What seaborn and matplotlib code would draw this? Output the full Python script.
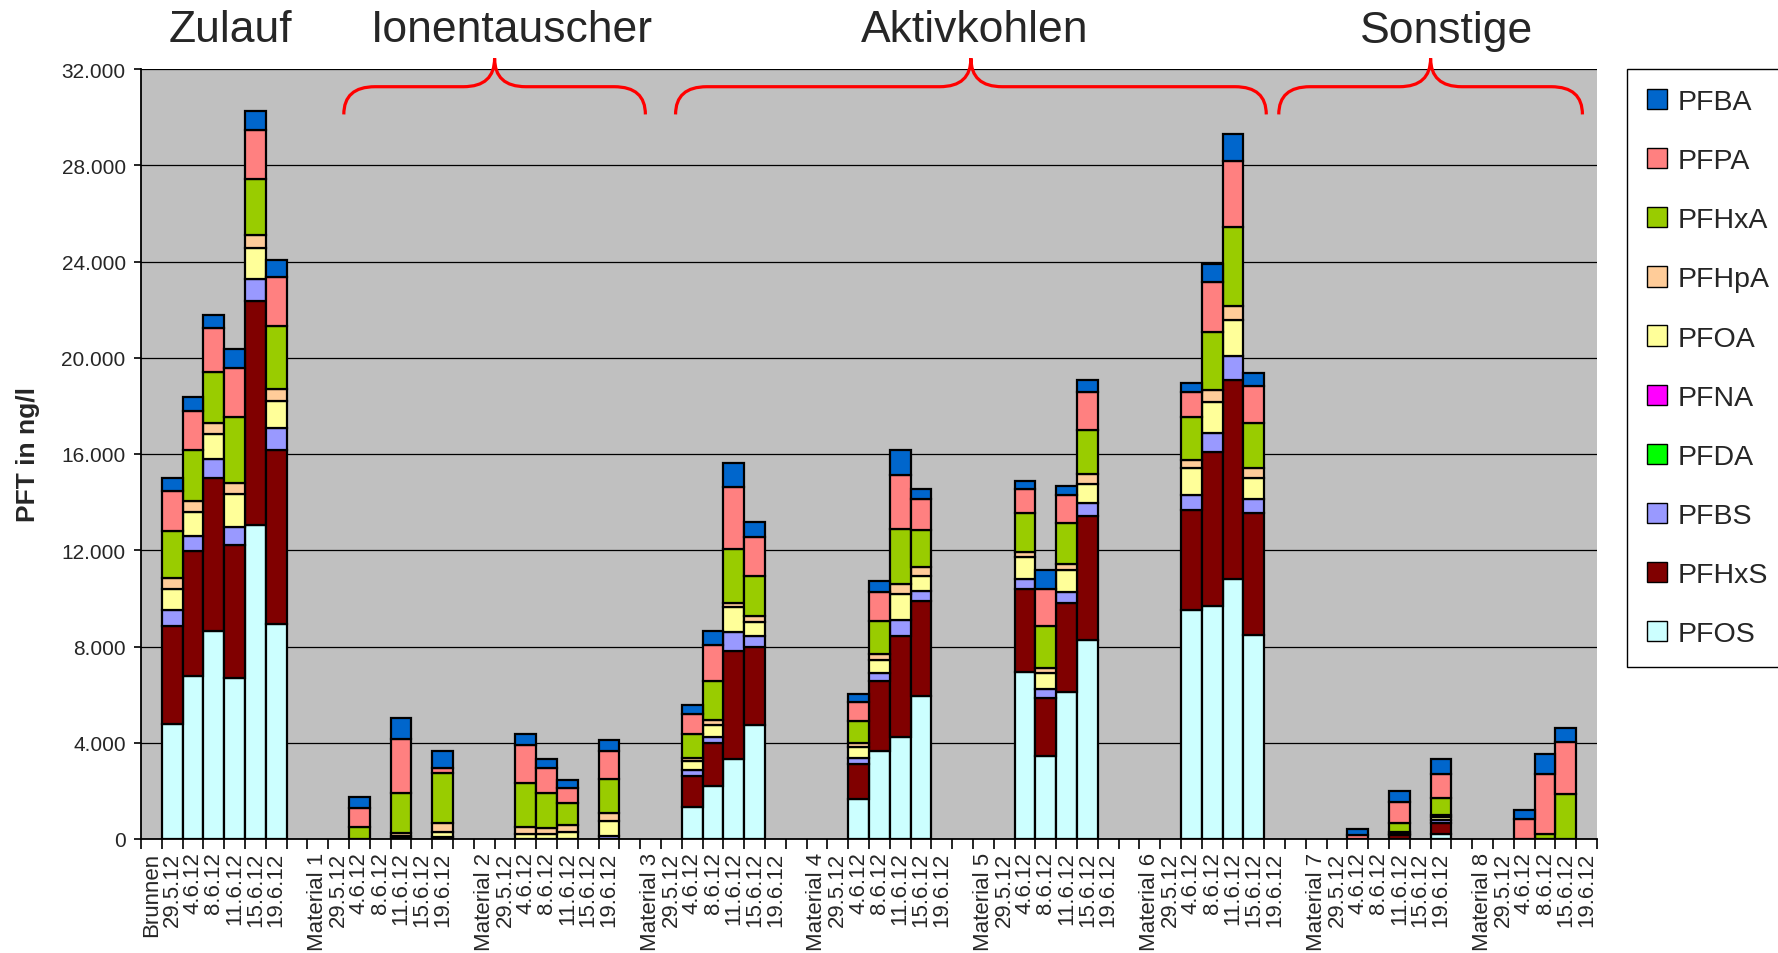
import numpy as np
import matplotlib
matplotlib.use("Agg")
import matplotlib.pyplot as plt
import matplotlib.transforms as mtransforms
import seaborn as sns
from matplotlib.patches import Patch, PathPatch
from matplotlib.path import Path

# sample points (group name + sampling dates), Material 8 has no 11.6.12
groups = ["Brunnen", "Material 1", "Material 2", "Material 3", "Material 4",
          "Material 5", "Material 6", "Material 7", "Material 8"]
dates = ["29.5.12", "4.6.12", "8.6.12", "11.6.12", "15.6.12", "19.6.12"]
dates_m8 = ["29.5.12", "4.6.12", "8.6.12", "15.6.12", "19.6.12"]

# values in ng/l, one sublist per group, one entry per date (0 = no bar)
PFOS = [[4800, 6770, 8660, 6690, 13050, 8920],
        [0, 0, 0, 0, 0, 0],
        [0, 0, 0, 0, 0, 0],
        [0, 1320, 2200, 3340, 4730, 0],
        [0, 1680, 3660, 4250, 5960, 0],
        [0, 6950, 3450, 6090, 8260, 0],
        [0, 9530, 9690, 10790, 8490, 0],
        [0, 0, 0, 0, 0, 210],
        [0, 0, 0, 0, 0]]
PFHxS = [[4060, 5180, 6340, 5520, 9300, 7230],
         [0, 0, 0, 60, 0, 80],
         [0, 0, 0, 0, 0, 0],
         [0, 1290, 1810, 4480, 3270, 0],
         [0, 1450, 2900, 4200, 3950, 0],
         [0, 3460, 2390, 3700, 5150, 0],
         [0, 4140, 6410, 8300, 5050, 0],
         [0, 0, 0, 150, 0, 440],
         [0, 0, 0, 0, 0]]
PFBS = [[660, 660, 810, 750, 930, 950],
        [0, 0, 0, 0, 0, 0],
        [0, 0, 0, 0, 0, 140],
        [0, 240, 240, 780, 420, 0],
        [0, 250, 320, 660, 410, 0],
        [0, 390, 390, 480, 550, 0],
        [0, 640, 770, 1000, 580, 0],
        [0, 0, 0, 40, 0, 150],
        [0, 0, 0, 0, 0]]
PFDA = [[0, 0, 0, 0, 0, 0]] * 8 + [[0, 0, 0, 0, 0]]
PFNA = [[0, 0, 0, 0, 0, 0]] * 8 + [[0, 0, 0, 0, 0]]
PFOA = [[850, 990, 1030, 1390, 1290, 1090],
        [0, 0, 0, 60, 0, 230],
        [0, 200, 200, 300, 0, 600],
        [0, 390, 490, 1030, 600, 0],
        [0, 440, 550, 1060, 620, 0],
        [0, 900, 650, 900, 800, 0],
        [0, 1120, 1290, 1480, 870, 0],
        [0, 0, 0, 90, 0, 100],
        [0, 0, 0, 0, 0]]
PFHpA = [[460, 460, 440, 440, 520, 520],
         [0, 0, 0, 150, 0, 360],
         [0, 280, 250, 280, 0, 350],
         [0, 130, 210, 180, 260, 0],
         [0, 150, 260, 410, 350, 0],
         [0, 240, 240, 240, 420, 0],
         [0, 330, 480, 580, 420, 0],
         [0, 0, 0, 0, 0, 90],
         [0, 0, 0, 0, 0]]
PFHxA = [[1970, 2090, 2140, 2740, 2320, 2600],
         [0, 490, 0, 1630, 0, 2080],
         [0, 1840, 1450, 900, 0, 1420],
         [0, 990, 1600, 2250, 1670, 0],
         [0, 950, 1380, 2320, 1550, 0],
         [0, 1620, 1730, 1740, 1830, 0],
         [0, 1790, 2410, 3270, 1890, 0],
         [0, 0, 0, 390, 0, 700],
         [0, 0, 210, 1880, 0]]
PFPA = [[1650, 1630, 1810, 2050, 2050, 2050],
        [0, 780, 0, 2250, 0, 180],
        [0, 1580, 1030, 660, 0, 1130],
        [0, 850, 1530, 2570, 1610, 0],
        [0, 770, 1190, 2240, 1280, 0],
        [0, 970, 1540, 1140, 1560, 0],
        [0, 1040, 2080, 2750, 1540, 0],
        [0, 170, 0, 860, 0, 1010],
        [0, 830, 2500, 2150, 0]]
PFBA = [[560, 600, 540, 790, 810, 690],
        [0, 460, 0, 890, 0, 730],
        [0, 470, 410, 300, 0, 480],
        [0, 360, 580, 990, 630, 0],
        [0, 340, 480, 1040, 410, 0],
        [0, 350, 790, 390, 510, 0],
        [0, 350, 750, 1120, 520, 0],
        [0, 250, 0, 450, 0, 630],
        [0, 380, 810, 600, 0]]

# stacking order bottom -> top
series = [("PFOS", PFOS, "#CCFFFF"), ("PFHxS", PFHxS, "#800000"),
          ("PFBS", PFBS, "#9999FF"), ("PFDA", PFDA, "#00FF00"),
          ("PFNA", PFNA, "#FF00FF"), ("PFOA", PFOA, "#FFFF99"),
          ("PFHpA", PFHpA, "#FFCC99"), ("PFHxA", PFHxA, "#99CC00"),
          ("PFPA", PFPA, "#FF8080"), ("PFBA", PFBA, "#0066CC")]

section_titles = ["Zulauf", "Ionentauscher", "Aktivkohlen", "Sonstige"]


def flatten(vals):
    # group label slot, the dates, then an empty slot between groups
    out = []
    for gi, row in enumerate(vals):
        out += [0] + list(row)
        if gi < len(vals) - 1:
            out += [0]
    return np.array(out, dtype=float)


labels = []
for gi, g in enumerate(groups):
    labels += [g] + (dates_m8 if g == "Material 8" else dates)
    if gi < len(groups) - 1:
        labels += [""]

sns.set_style("white")
plt.rcParams["font.family"] = ["Liberation Sans", "DejaVu Sans"]

fig = plt.figure(figsize=(17.78, 9.54), dpi=100)
ax = fig.add_axes([141 / 1778, 1 - 840 / 954, 1456 / 1778, 770 / 954])
ax.set_facecolor("#C0C0C0")

x = np.arange(len(labels))
bottom = np.zeros(len(labels))
for name, vals, color in series:
    v = flatten(vals)
    m = v > 0
    if m.any():
        ax.bar(x[m], v[m], bottom=bottom[m], width=1.0, color=color,
               edgecolor="black", linewidth=1.6, zorder=3)
    bottom += v

ax.set_xlim(-0.5, len(labels) - 0.5)
ax.set_ylim(0, 32000)
yt = np.arange(0, 32001, 4000)
ax.set_yticks(yt)
ax.set_yticklabels([f"{v:,.0f}".replace(",", ".") for v in yt], fontsize=15)
ax.yaxis.grid(True, color="black", linewidth=0.9)
ax.set_axisbelow(True)

ax.set_xticks(x)
ax.set_xticklabels(labels, rotation=90, fontsize=16)
ax.set_xticks(np.arange(-0.5, len(labels)), minor=True)
ax.tick_params(axis="x", which="major", length=0, pad=9)
ax.tick_params(axis="x", which="minor", length=7, width=1.2, color="black",
               direction="out", bottom=True)
ax.tick_params(axis="y", length=5, width=1.2, color="black", direction="out",
               left=True, pad=6)

for s in ["top", "right"]:
    ax.spines[s].set_visible(False)
for s in ["left", "bottom"]:
    ax.spines[s].set_color("black")
    ax.spines[s].set_linewidth(1.3)

fig.text(28 / 1778, 1 - 455 / 954, "PFT in ng/l", rotation=90, ha="center",
         va="center", fontsize=19, fontweight="bold")

# section headings above the bars
for t, px in zip(section_titles, [230, 512, 975, 1447]):
    fig.text(px / 1778, 1 - 31 / 954, t, ha="center", va="center", fontsize=32)

# curly braces over the sections
trans = mtransforms.blended_transform_factory(ax.transData, ax.transAxes)


def brace(x0, x1, r=1.5, y_low=0.941, y_mid=0.977, y_top=1.014):
    xc = (x0 + x1) / 2
    verts = [(x0, y_low), (x0, y_mid), (x0 + r, y_mid),
             (xc - r, y_mid), (xc, y_mid), (xc, y_top),
             (xc, y_mid), (xc + r, y_mid),
             (x1 - r, y_mid), (x1, y_mid), (x1, y_low)]
    codes = [Path.MOVETO, Path.CURVE3, Path.CURVE3,
             Path.LINETO, Path.CURVE3, Path.CURVE3,
             Path.CURVE3, Path.CURVE3,
             Path.LINETO, Path.CURVE3, Path.CURVE3]
    p = PathPatch(Path(verts, codes), transform=trans, fill=False,
                  edgecolor="red", linewidth=2.3, clip_on=False, zorder=5)
    ax.add_patch(p)


brace(9.25, 23.75)
brace(25.2, 53.6)
brace(54.2, 68.8)

handles = [Patch(facecolor=c, edgecolor="black", label=n)
           for n, _, c in series[::-1]]
leg = fig.legend(handles=handles, loc="upper left",
                 bbox_to_anchor=(1627 / 1778, 1 - 70 / 954), fontsize=20.5,
                 frameon=True, fancybox=False, edgecolor="black",
                 framealpha=1, labelspacing=1.16, handlelength=0.72,
                 handleheight=0.72, handletextpad=0.35, borderpad=0.7,
                 borderaxespad=0)
leg.get_frame().set_linewidth(1.0)

fig.savefig("out.png", dpi=100, facecolor="white")
